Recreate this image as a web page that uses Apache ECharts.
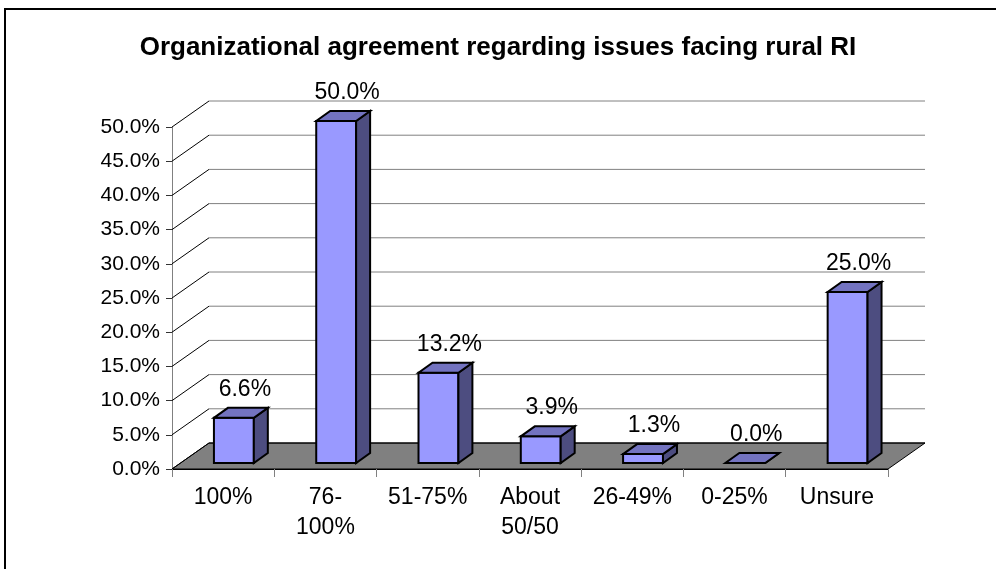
<!DOCTYPE html>
<html>
<head>
<meta charset="utf-8">
<script src="https://cdn.jsdelivr.net/npm/echarts@6/dist/echarts.min.js"></script>
<style>
  html, body { margin: 0; padding: 0; background: #fff; }
  #chart { width: 996px; height: 569px; }
</style>
</head>
<body>
<div id="chart"></div>
<script>
var categories = ['100%', '76-100%', '51-75%', 'About 50/50', '26-49%', '0-25%', 'Unsure'];
var values = [6.6, 50.0, 13.2, 3.9, 1.3, 0.0, 25.0];
var yTicks = [0, 5, 10, 15, 20, 25, 30, 35, 40, 45, 50];

// depth of the 3d box (pixels)
var DX = 37, DY = -26;
var BAR_DX = 14, BAR_DY = -10;

var chart = echarts.init(document.getElementById('chart'));

function poly(points, fill, stroke, w) {
  return { type: 'polygon', shape: { points: points }, style: { fill: fill, stroke: stroke, lineWidth: w } };
}

var option = {
  animation: false,
  title: {
    text: 'Organizational agreement regarding issues facing rural RI',
    left: 'center',
    top: 30,
    textStyle: { fontFamily: 'Liberation Sans', fontSize: 26, fontWeight: 'bold', color: '#000' }
  },
  graphic: [{
    type: 'rect',
    shape: { x: 5, y: 9, width: 1000, height: 600 },
    style: { fill: null, stroke: '#000', lineWidth: 2 },
    z: 0
  }],
  grid: { left: 172, right: 108, top: 127, bottom: 100 },
  xAxis: {
    type: 'category',
    data: categories,
    axisLine: { show: true, lineStyle: { color: '#000', width: 1 } },
    axisTick: { show: true, alignWithLabel: false, length: 8, lineStyle: { color: '#808080' } },
    axisLabel: {
      interval: 0,
      margin: 14,
      fontFamily: 'Liberation Sans',
      fontSize: 23,
      lineHeight: 30,
      color: '#000',
      formatter: function (v) { return v.replace('-100', '-\n100').replace(' ', '\n'); }
    },
    splitLine: { show: false },
    z: 5
  },
  yAxis: {
    type: 'value',
    min: 0,
    max: 50,
    interval: 5,
    axisLine: { show: true, lineStyle: { color: '#808080' } },
    axisTick: { show: true, length: 6, lineStyle: { color: '#333' } },
    axisLabel: {
      margin: 12,
      fontFamily: 'Liberation Sans',
      fontSize: 21,
      color: '#000',
      formatter: function (v) { return v.toFixed(1) + '%'; }
    },
    splitLine: { show: false }
  },
  series: [
    {
      // floor
      type: 'custom',
      z: 1,
      silent: true,
      data: [[0, 0]],
      renderItem: function (params, api) {
        var cs = params.coordSys;
        var y = api.coord([0, 0])[1];
        var l = cs.x, r = cs.x + cs.width;
        return {
          type: 'group',
          children: [
            poly([[l, y], [r, y], [r + DX, y + DY], [l + DX, y + DY]], '#808080', '#000', 1)
          ]
        };
      }
    },
    {
      // walls: diagonals and back grid lines
      type: 'custom',
      z: 2,
      silent: true,
      data: yTicks.map(function (t) { return [0, t]; }),
      renderItem: function (params, api) {
        var cs = params.coordSys;
        var t = api.value(1);
        var y = api.coord([0, t])[1];
        var l = cs.x, r = cs.x + cs.width;
        return {
          type: 'group',
          children: [
            { type: 'line', shape: { x1: l, y1: y, x2: l + DX, y2: y + DY }, style: { stroke: '#000', lineWidth: 1 } },
            { type: 'line', shape: { x1: l + DX, y1: y + DY, x2: r + DX, y2: y + DY }, style: { stroke: t === 0 ? '#000' : '#808080', lineWidth: 1 } }
          ]
        };
      }
    },
    {
      // 3d bars
      type: 'custom',
      z: 3,
      data: values.map(function (v, i) { return [i, v]; }),
      renderItem: function (params, api) {
        var idx = api.value(0);
        var v = api.value(1);
        var top = api.coord([idx, v]);
        var base = api.coord([idx, 0]);
        var bw = api.size([1, 0])[0];
        var x0 = top[0] - 0.09 * bw;
        var x1 = x0 + 0.39 * bw;
        var yt = top[1] - 6;
        var yb = base[1] - 6;
        var ch = [
          poly([[x0, yt], [x1, yt], [x1, yb], [x0, yb]], '#9999FF', '#000', 2),
          poly([[x1, yt], [x1 + BAR_DX, yt + BAR_DY], [x1 + BAR_DX, yb + BAR_DY], [x1, yb]], '#4D4D80', '#000', 2),
          poly([[x0, yt], [x1, yt], [x1 + BAR_DX, yt + BAR_DY], [x0 + BAR_DX, yt + BAR_DY]], '#7373C0', '#000', 2),
          {
            type: 'text',
            style: {
              text: v.toFixed(1) + '%',
              x: (x0 + x1) / 2 + 11,
              y: yt + BAR_DY - 7,
              align: 'center',
              verticalAlign: 'bottom',
              fontFamily: 'Liberation Sans',
              fontSize: 23,
              fill: '#000'
            }
          }
        ];
        return { type: 'group', children: ch };
      }
    }
  ]
};

chart.setOption(option);
window.onresize = chart.resize;
</script>
</body>
</html>
